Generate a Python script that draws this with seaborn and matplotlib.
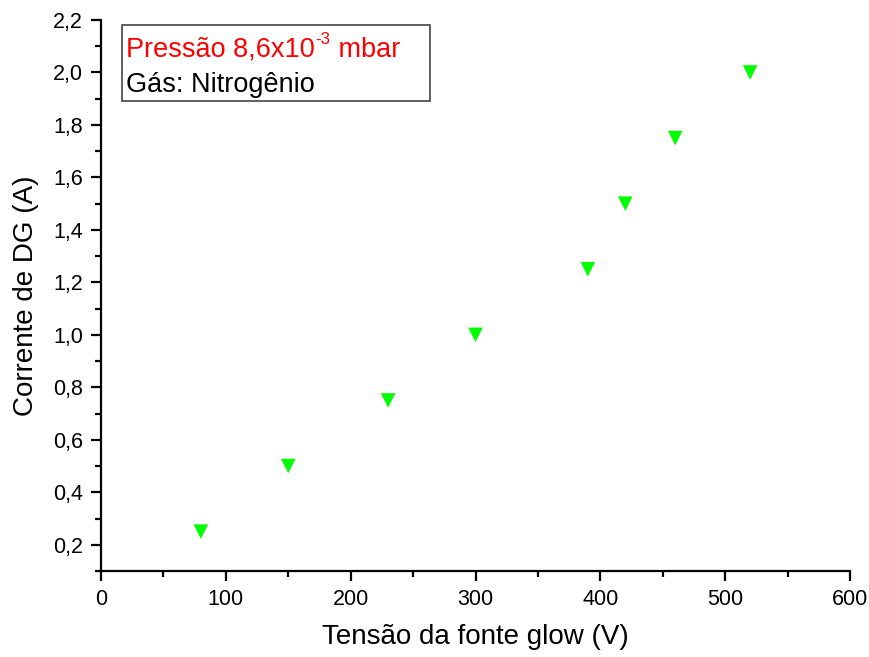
import matplotlib
matplotlib.use("Agg")
import matplotlib.pyplot as plt
import seaborn as sns
import pandas as pd
from matplotlib.ticker import MultipleLocator, FuncFormatter
from matplotlib.patches import Rectangle

voltage = [80, 150, 230, 300, 390, 420, 460, 520]
current = [0.25, 0.5, 0.75, 1.0, 1.25, 1.5, 1.75, 2.0]

sns.set_theme(style="ticks")
plt.rcParams['font.family'] = ['Liberation Sans', 'DejaVu Sans']
plt.rcParams['xtick.labelsize'] = 15.5
plt.rcParams['ytick.labelsize'] = 15.5

df = pd.DataFrame({"v": voltage, "i": current})
fig = plt.figure(figsize=(8.69, 6.57), dpi=100)
ax = fig.add_axes([101/869, 86/657, 749/869, 551/657])
sns.scatterplot(data=df, x="v", y="i", marker="v", s=110, color="#00FF00",
                edgecolor="none", ax=ax, zorder=3)
ax.set_xlim(0, 600)
ax.set_ylim(0.1, 2.2)
ax.xaxis.set_major_locator(MultipleLocator(100))
ax.xaxis.set_minor_locator(MultipleLocator(50))
ax.yaxis.set_major_locator(MultipleLocator(0.2))
ax.yaxis.set_minor_locator(MultipleLocator(0.1))
ax.yaxis.set_major_formatter(FuncFormatter(lambda v, p: f"{v:.1f}".replace(".", ",")))
for s in ["top", "right"]:
    ax.spines[s].set_visible(False)
for s in ["left", "bottom"]:
    ax.spines[s].set_linewidth(1.6)
    ax.spines[s].set_color("black")
ax.tick_params(which="major", length=7, width=1.6, labelsize=15.5, colors="black",
               labelcolor="black", direction="out", pad=6)
ax.tick_params(which="minor", length=4, width=1.6, direction="out", colors="black")
ax.set_xlabel("Tensão da fonte glow (V)", fontsize=20, labelpad=10, color="black")
ax.set_ylabel("Corrente de DG (A)", fontsize=20, labelpad=10, color="black")

fs = 19.5
W, H = 869, 657
x0, yb = 126, H - 57
fig.canvas.draw()
r = fig.canvas.get_renderer()
t1 = fig.text(x0 / W, yb / H, "Pressão 8,6x10", color="red", fontsize=fs,
              va="baseline", ha="left")
x1 = t1.get_window_extent(r).x1
t2 = fig.text((x1 + 1) / W, (yb + 13) / H, "-3", color="red", fontsize=fs * 0.62,
              va="baseline", ha="left")
x2 = t2.get_window_extent(r).x1
fig.text(x2 / W, yb / H, " mbar", color="red", fontsize=fs, va="baseline", ha="left")
fig.text(x0 / W, (H - 92) / H, "Gás: Nitrogênio", color="black", fontsize=fs,
         va="baseline", ha="left")
ax.add_patch(Rectangle((122/869, 556/657), 308/869, 76/657, transform=fig.transFigure,
                       fill=False, edgecolor="#444444", linewidth=1.2, clip_on=False))
fig.savefig("out.png", dpi=100)
